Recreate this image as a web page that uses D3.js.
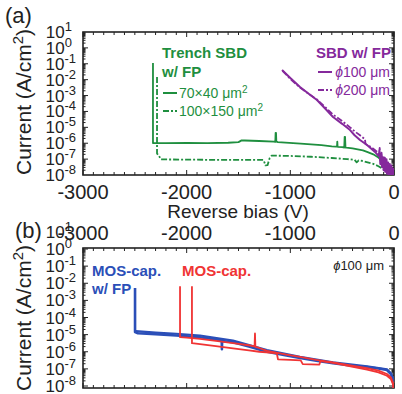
<!DOCTYPE html>
<html>
<head>
<meta charset="utf-8">
<script src="https://cdn.jsdelivr.net/npm/d3@7"></script>
<style>
  body { margin: 0; background: #fff; }
  svg { display: block; font-family: "Liberation Sans", Arial, sans-serif; }
</style>
</head>
<body>
<div id="chart"></div>
<script>
// Axis values
const voltTicks = [-3000, -2000, -1000, 0];
const decadeExps = [1, 0, -1, -2, -3, -4, -5, -6, -7, -8];

// Currents are stored as log10(A/cm^2)

// (a) Trench SBD w/ FP, 70x40 um^2 (solid)
const trench70V = [-2325, -2325, -2310, -2200, -2000, -1800, -1600, -1500, -1470, -1440, -1300, -1160, -1145, -1142, -1138, -1135, -1120, -900, -700, -600, -560, -550, -547, -544, -540, -500, -480, -476, -472, -468, -460, -400, -300, -260, -200, -150, -100, -60, -30, 0];
const trench70LogI = [-0.95, -5.99, -6.0, -6.0, -5.98, -6.0, -5.97, -5.93, -5.82, -5.83, -5.86, -5.9, -5.92, -5.35, -5.35, -5.9, -5.93, -6.02, -6.12, -6.2, -6.22, -6.22, -5.9, -6.22, -6.23, -6.25, -6.27, -5.6, -5.6, -6.27, -6.28, -6.32, -6.45, -6.55, -6.7, -6.9, -7.2, -7.5, -7.75, -8.0];

// (a) Trench SBD w/ FP, 100x150 um^2 (dash-dot)
const trench100V = [-2286, -2286, -2270, -2250, -2000, -1700, -1400, -1260, -1250, -1240, -1220, -1200, -1180, -1000, -800, -600, -450, -380, -360, -340, -300, -200, -150, -100, -50, 0];
const trench100LogI = [-1.83, -6.65, -6.75, -7.02, -7.03, -7.05, -7.05, -7.05, -7.2, -7.4, -7.38, -6.95, -6.78, -6.8, -6.85, -6.93, -7.0, -7.05, -7.2, -7.08, -7.12, -7.3, -7.45, -7.65, -7.85, -8.0];

// (a) SBD w/ FP, phi 100 um (solid)
const sbd100V = [-1080, -1000, -907, -820, -743, -660, -588, -500, -424, -380, -328, -260, -183, -150, -140, -132, -124, -116, -108, -100, -92, -84, -76, -68, -60, -52, -44, -36, -28, -20, -12, -4, 0];
const sbd100LogI = [-1.39, -1.9, -2.46, -2.9, -3.28, -3.85, -4.35, -4.78, -5.17, -5.5, -5.8, -6.11, -6.55, -6.8, -6.5, -7.3, -6.7, -7.5, -6.9, -7.7, -7.0, -7.8, -7.1, -7.9, -7.3, -8.0, -7.4, -8.0, -7.5, -8.0, -7.6, -8.0, -8.0];

// (a) SBD w/ FP, phi 200 um (dash-dot)
const sbd200V = [-1075, -1000, -907, -820, -743, -660, -588, -500, -424, -380, -328, -280, -275, -220, -170, -146, -138, -128, -120, -112, -104, -96, -88, -80, -72, -64, -56, -48, -40, -32, -24, -16, -8, 0];
const sbd200LogI = [-1.45, -1.95, -2.5, -2.9, -3.25, -3.75, -4.2, -4.6, -5.0, -5.25, -5.5, -5.75, -6.05, -6.25, -6.5, -6.7, -6.3, -7.1, -6.6, -7.3, -6.8, -7.5, -6.9, -7.6, -7.0, -7.7, -7.2, -7.9, -7.3, -8.0, -7.4, -8.0, -7.6, -8.0];

// (b) MOS-cap. w/ FP (blue, two sweeps)
const mosFp1V = [-2498, -2498, -2470, -2300, -2100, -1871, -1700, -1662, -1660, -1658, -1553, -1400, -1225, -1050, -907, -750, -588, -420, -260, -150, -68, -30, -10, 0];
const mosFp1LogI = [-2.28, -4.85, -4.92, -4.98, -5.05, -5.15, -5.3, -5.35, -5.85, -5.37, -5.45, -5.7, -6.0, -6.2, -6.37, -6.52, -6.67, -6.8, -6.9, -6.98, -7.07, -7.3, -7.6, -8.3];
const mosFp2V = [-2490, -2300, -2100, -1871, -1553, -1225, -907, -588, -260, -68, -30, -10, 0];
const mosFp2LogI = [-4.8, -4.88, -4.95, -5.05, -5.35, -5.9, -6.3, -6.62, -6.85, -7.02, -7.25, -7.55, -8.3];

// (b) MOS-cap. (red, two sweeps)
const mos1V = [-2064, -2064, -2000, -1871, -1700, -1553, -1400, -1345, -1341, -1337, -1300, -1225, -1050, -907, -750, -588, -420, -260, -150, -68, -30, -10, 0];
const mos1LogI = [-2.17, -5.15, -5.17, -5.25, -5.38, -5.5, -5.62, -5.68, -4.93, -5.72, -5.78, -5.95, -6.15, -6.3, -6.47, -6.62, -6.8, -6.95, -7.1, -7.3, -7.5, -7.8, -8.4];
const mos2V = [-1949, -1949, -1871, -1700, -1553, -1400, -1300, -1200, -1130, -1119, -1000, -900, -880, -720, -710, -588, -420, -260, -150, -68, -30, -10, 0];
const mos2LogI = [-2.17, -5.5, -5.55, -5.68, -5.8, -5.92, -6.0, -6.05, -6.1, -6.45, -6.48, -6.5, -6.72, -6.75, -6.55, -6.65, -6.85, -7.05, -7.2, -7.4, -7.6, -7.9, -8.4];

const green = "#1f8f3f", purple = "#85299c", blue = "#2b4fb8", red = "#f03434";

const W = 402, H = 394;
const svg = d3.select("#chart").append("svg")
    .attr("width", W)
    .attr("height", H);
svg.append("rect").attr("width", W).attr("height", H).attr("fill", "#fff");

// Scales
const x = d3.scaleLinear().domain([-3000, 0]).range([83, 394]);
const yA = d3.scaleLog().domain([1e1, 1e-8]).range([32, 175]);
const yB = d3.scaleLog().domain([1e0, 1e-8]).range([249, 386]);

const frameA = { x0: 83, x1: 394, y0: 32, y1: 175 };
const frameB = { x0: 83, x1: 394, y0: 248, y1: 388 };

function pts(vs, logs) {
    return d3.zip(vs, logs).map(d => [d[0], Math.pow(10, d[1])]);
}

function drawFrame(f, y, id) {
    const g = svg.append("g");
    // x ticks every 100 V, top and bottom, inward
    d3.range(-3000, 1, 100).forEach(v => {
        const len = v % 1000 === 0 ? 5 : 3;
        g.append("line").attr("x1", x(v)).attr("x2", x(v)).attr("y1", f.y1).attr("y2", f.y1 - len);
        g.append("line").attr("x1", x(v)).attr("x2", x(v)).attr("y1", f.y0).attr("y2", f.y0 + len);
    });
    // y ticks at decades and minor log steps
    d3.range(-8, 1).forEach(e => {
        d3.range(1, 10).forEach(m => {
            const yy = y(m * Math.pow(10, e));
            if (yy < f.y0 + 0.5 || yy > f.y1 - 0.5) return;
            const len = m === 1 ? 5 : 2.5;
            g.append("line").attr("x1", f.x0).attr("x2", f.x0 + len).attr("y1", yy).attr("y2", yy);
            g.append("line").attr("x1", f.x1).attr("x2", f.x1 - len).attr("y1", yy).attr("y2", yy);
        });
    });
    g.selectAll("line").attr("stroke", "#222").attr("stroke-width", 1);
    svg.append("rect")
        .attr("x", f.x0).attr("y", f.y0)
        .attr("width", f.x1 - f.x0).attr("height", f.y1 - f.y0)
        .attr("fill", "none").attr("stroke", "#222").attr("stroke-width", 1.6);
    svg.append("clipPath").attr("id", id)
        .append("rect")
        .attr("x", f.x0).attr("y", f.y0)
        .attr("width", f.x1 - f.x0).attr("height", f.y1 - f.y0);
}

function decadeLabels(y) {
    decadeExps.forEach(e => {
        const t = svg.append("text")
            .attr("x", e < 0 ? 76 : 72)
            .attr("y", y(Math.pow(10, e)) + 6)
            .attr("text-anchor", "end")
            .attr("fill", "#222")
            .style("font-size", "17px");
        t.append("tspan").text("10");
        t.append("tspan").attr("dy", -7).style("font-size", "13px").text(e < 0 ? "-" + (-e) : String(e));
    });
}

function voltLabels(yText) {
    svg.append("g").selectAll("text")
        .data(voltTicks)
        .join("text")
        .attr("x", d => x(d))
        .attr("y", yText)
        .attr("text-anchor", "middle")
        .attr("fill", "#222")
        .style("font-size", "20px")
        .text(d => d);
}

function yTitle(cy) {
    const t = svg.append("text")
        .attr("transform", `translate(31,${cy}) rotate(-90)`)
        .attr("text-anchor", "middle")
        .attr("fill", "#222")
        .style("font-size", "21px");
    t.append("tspan").text("Current (A/cm");
    t.append("tspan").attr("dy", -8).style("font-size", "15px").text("2");
    t.append("tspan").attr("dy", 8).text(")");
}

function series(y, clip, vs, logs, color, width, dash) {
    const line = d3.line().x(d => x(d[0])).y(d => y(d[1]));
    svg.append("path")
        .datum(pts(vs, logs))
        .attr("clip-path", `url(#${clip})`)
        .attr("d", line)
        .attr("fill", "none")
        .attr("stroke", color)
        .attr("stroke-width", width)
        .attr("stroke-linejoin", "round")
        .attr("stroke-dasharray", dash || null);
}

function label(xp, yp, txt, color, size, weight, anchor) {
    return svg.append("text")
        .attr("x", xp).attr("y", yp)
        .attr("text-anchor", anchor || "start")
        .attr("fill", color)
        .style("font-size", size + "px")
        .style("font-weight", weight || "normal")
        .text(txt);
}

// ---------- Panel (a) ----------
drawFrame(frameA, yA, "clipA");
decadeLabels(yA);
voltLabels(199);
yTitle(102);
label(5, 23, "(a)", "#222", 22);
label(238, 218, "Reverse bias (V)", "#222", 19, "normal", "middle");

series(yA, "clipA", trench100V, trench100LogI, green, 1.8, "6,2,2,2");
series(yA, "clipA", trench70V, trench70LogI, green, 1.8);
series(yA, "clipA", sbd200V, sbd200LogI, purple, 1.8, "6,2,2,2");
series(yA, "clipA", sbd100V, sbd100LogI, purple, 2);

// legend (a) trench
label(162, 58, "Trench SBD", green, 15, "bold");
label(162, 77, "w/ FP", green, 15, "bold");
svg.append("line").attr("x1", 163).attr("x2", 177).attr("y1", 93).attr("y2", 93)
    .attr("stroke", green).attr("stroke-width", 2);
svg.append("line").attr("x1", 163).attr("x2", 177).attr("y1", 111).attr("y2", 111)
    .attr("stroke", green).attr("stroke-width", 2).attr("stroke-dasharray", "6,2,2,2");
const l1 = label(179, 98, "70×40 ", green, 14);
l1.append("tspan").text("μm");
l1.append("tspan").attr("dy", -5).style("font-size", "10px").text("2");
const l2 = label(179, 116, "100×150 ", green, 14);
l2.append("tspan").text("μm");
l2.append("tspan").attr("dy", -5).style("font-size", "10px").text("2");

// legend (a) SBD
label(391, 58, "SBD w/ FP", purple, 15, "bold", "end");
svg.append("line").attr("x1", 318).attr("x2", 332).attr("y1", 72).attr("y2", 72)
    .attr("stroke", purple).attr("stroke-width", 2);
svg.append("line").attr("x1", 318).attr("x2", 332).attr("y1", 90).attr("y2", 90)
    .attr("stroke", purple).attr("stroke-width", 2).attr("stroke-dasharray", "6,2,2,2");
const p1 = label(390, 77, "", purple, 14, "normal", "end");
p1.append("tspan").style("font-style", "italic").text("ϕ");
p1.append("tspan").text("100 μm");
const p2 = label(390, 95, "", purple, 14, "normal", "end");
p2.append("tspan").style("font-style", "italic").text("ϕ");
p2.append("tspan").text("200 μm");

// ---------- Panel (b) ----------
drawFrame(frameB, yB, "clipB");
decadeLabels(yB);
voltLabels(240);
yTitle(318);
label(15, 238, "(b)", "#222", 22);

series(yB, "clipB", mosFp2V, mosFp2LogI, blue, 2.2);
series(yB, "clipB", mosFp1V, mosFp1LogI, blue, 2.6);
series(yB, "clipB", mos2V, mos2LogI, red, 1.8);
series(yB, "clipB", mos1V, mos1LogI, red, 1.8);

label(92, 276, "MOS-cap.", blue, 15, "bold");
label(92, 294, "w/ FP", blue, 15, "bold");
label(182, 276, "MOS-cap.", red, 15, "bold");
const b1 = label(384, 270, "", "#222", 13, "normal", "end");
b1.append("tspan").style("font-style", "italic").text("ϕ");
b1.append("tspan").text("100 μm");
</script>
</body>
</html>
